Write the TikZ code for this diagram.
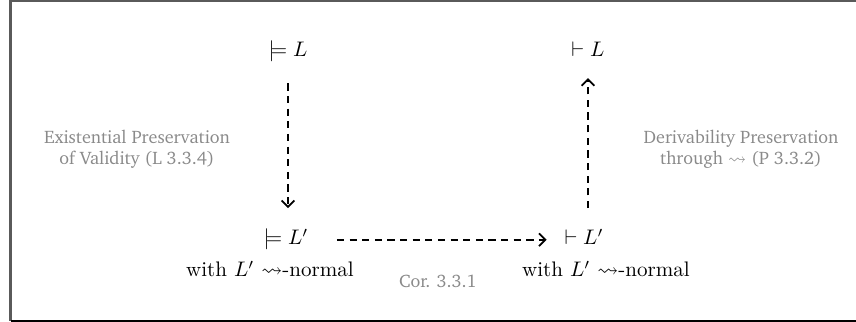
\documentclass[tikz,border=0pt]{standalone}
\usepackage{amssymb}
\usepackage[T1,TU]{fontenc}
\usetikzlibrary{arrows.meta}
\definecolor{labelgray}{HTML}{8A8A8A}
\definecolor{framegray}{HTML}{5A5A5A}
\newcommand{\labelfont}{\fontencoding{T1}\fontfamily{bch}\fontsize{8.6}{10}\selectfont}
\tikzset{
  judg/.style={anchor=base, inner sep=0.3333em},
  note/.style={anchor=base, inner sep=0pt},
  rulelabel/.style={text=labelgray, align=center, font=\labelfont, inner sep=0pt},
  dasharrow/.style={dashed, dash pattern=on 3.4pt off 2.6pt, line width=0.85pt,
    -{Straight Barb[length=3pt,width=6pt,line width=0.85pt]}},
}
\begin{document}
\begin{tikzpicture}[x=0.475pt, y=-0.475pt]
  \useasboundingbox (0,0) rectangle (856,322);
  % frame
  \draw[framegray, line width=1.2pt] (856,0.8) -- (10.5,0.8) -- (10.5,321);
  \draw[black, line width=1.2pt] (10.5,321.2) -- (856,321.2);

  % judgements
  \node[judg] (valL)  at (288,57)  {$\models L$};
  \node[judg] (derL)  at (588,57)  {$\vdash L$};
  \node[judg] (valLp) at (286,245) {$\models L'$};
  \node[judg] (derLp) at (584,245) {$\vdash L'$};
  \node[note] (condl) at (270,277) {with $L'$ $\leadsto$-normal};
  \node[note] (condr) at (606,277) {with $L'$ $\leadsto$-normal};

  % rule labels
  \node[rulelabel] (exist) at (137,149) {Existential Preservation\\of Validity (L 3.3.4)};
  \node[rulelabel] (deriv) at (741,149) {Derivability Preservation\\through $\leadsto$ (P 3.3.2)};
  \node[rulelabel, anchor=base] (cor) at (438,288) {Cor. 3.3.1};

  % connectors
  \draw[dasharrow, shorten <=6.5pt, shorten >=6.5pt]
    (valL.south) -- (valL.south |- valLp.north);
  \draw[dasharrow, shorten <=6.5pt, shorten >=6.5pt]
    (derLp.north -| derL.south) -- (derL.south);
  \draw[dasharrow, shorten <=10pt, shorten >=5pt]
    (valLp.east) -- (valLp.east -| derLp.west);
\end{tikzpicture}
\end{document}
